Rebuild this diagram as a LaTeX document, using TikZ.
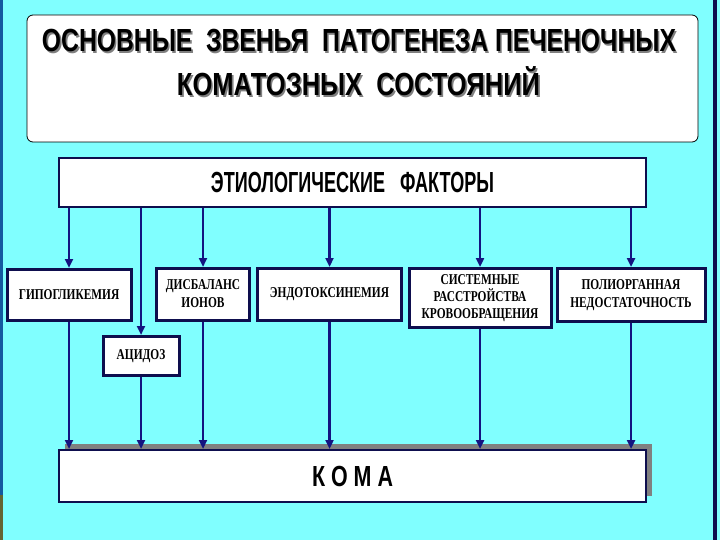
\documentclass[tikz,border=0pt]{standalone}
\usepackage{fontspec}
\setmainfont{Liberation Serif}
\newfontfamily\headfont{Liberation Sans}
\usepackage{graphicx}
\usepackage{tikz}
\usetikzlibrary{arrows.meta, shadows}
\definecolor{skycyan}{RGB}{128,255,255}
\definecolor{boxnavy}{RGB}{14,14,78}
\definecolor{arrownavy}{RGB}{20,20,128}
\definecolor{edgeblue}{RGB}{20,90,160}
\definecolor{edgeolive}{RGB}{100,100,50}
\newcommand{\capsfit}[3]{\resizebox{#1}{#2}{\vphantom{Н}\smash{#3}}}
\newcommand{\shadowed}[1]{\makebox[0pt][l]{\hspace*{1.6pt}\raisebox{-1.6pt}{\color{gray}#1}}#1}
\newcommand{\narrow}[1]{\scalebox{0.76}[1]{#1}}
\tikzstyle{headbox} = [rectangle, rounded corners=6pt, minimum width=671pt, minimum height=127pt, draw=black, line width=0.8pt, fill=white]
\tikzstyle{headline} = [anchor=base, inner sep=0pt, font=\headfont\bfseries]
\tikzstyle{causebox} = [rectangle, minimum width=587pt, minimum height=49pt, draw=boxnavy, line width=2.2pt, fill=white, font=\headfont\bfseries]
\tikzstyle{linkbox} = [rectangle, inner sep=0pt, draw=boxnavy, line width=3pt, fill=white, font=\fontsize{15}{18}\selectfont\bfseries]
\tikzstyle{comabox} = [rectangle, minimum width=587pt, minimum height=52pt, draw=boxnavy, line width=2pt, fill=white, font=\headfont\bfseries, drop shadow={fill=gray, opacity=1, shadow xshift=6pt, shadow yshift=6pt}]
\tikzstyle{arrow} = [line width=2.4pt, draw=arrownavy, -{Triangle[length=9pt, width=8pt]}]

\begin{document}
\begin{tikzpicture}[x=1pt, y=-1pt]
    \useasboundingbox (0,0) rectangle (720,540);
    \fill [skycyan] (0,0) rectangle (720,540);
    \fill [edgeblue] (0,0) rectangle (3,495);
    \fill [edgeolive] (0,495) rectangle (3,540);
    \fill [boxnavy] (713,0) rectangle (716.5,540);

    \node (head) [headbox] at (362.5,78.5) {};
    \node (headA) [headline] at (359,52) {\shadowed{\capsfit{634pt}{22pt}{ОСНОВНЫЕ\ \ ЗВЕНЬЯ\ \ ПАТОГЕНЕЗА ПЕЧЕНОЧНЫХ}}};
    \node (headB) [headline] at (358.5,96) {\shadowed{\capsfit{363pt}{22pt}{КОМАТОЗНЫХ\ \ СОСТОЯНИЙ}}};

    \node (causes) [causebox] at (352.5,182.5) {\capsfit{283pt}{20pt}{ЭТИОЛОГИЧЕСКИЕ\ \ \ ФАКТОРЫ}};

    \node (hypo) [linkbox, minimum width=124pt, minimum height=51pt] at (69,295) {\narrow{ГИПОГЛИКЕМИЯ}};
    \node (ions) [linkbox, minimum width=93pt, minimum height=52pt] at (203,294.5) {\narrow{\begin{tabular}{@{}c@{}}ДИСБАЛАНС\\ИОНОВ\end{tabular}}};
    \node (endo) [linkbox, minimum width=144pt, minimum height=52pt] at (329.5,294.5) {\narrow{ЭНДОТОКСИНЕМИЯ}};
    \node (circ) [linkbox, minimum width=142pt, minimum height=59pt, font=\fontsize{15}{16.5}\selectfont\bfseries] at (480,298) {\narrow{\begin{tabular}{@{}c@{}}СИСТЕМНЫЕ\\РАССТРОЙСТВА\\КРОВООБРАЩЕНИЯ\end{tabular}}};
    \node (organ) [linkbox, minimum width=148pt, minimum height=53pt] at (631,295) {\narrow{\begin{tabular}{@{}c@{}}ПОЛИОРГАННАЯ\\НЕДОСТАТОЧНОСТЬ\end{tabular}}};
    \node (acid) [linkbox, minimum width=76pt, minimum height=39pt] at (141,356) {\narrow{АЦИДОЗ}};

    \node (coma) [comabox] at (352.5,476) {\capsfit{81pt}{20pt}{К О М А}};

    \draw [arrow] (causes.south -| hypo.north) -- (hypo.north);
    \draw [arrow] (causes.south -| acid.north) -- (acid.north);
    \draw [arrow] (causes.south -| ions.north) -- (ions.north);
    \draw [arrow] (causes.south -| endo.north) -- (endo.north);
    \draw [arrow] (causes.south -| circ.north) -- (circ.north);
    \draw [arrow] (causes.south -| organ.north) -- (organ.north);

    \draw [arrow] (hypo.south) -- (hypo.south |- coma.north);
    \draw [arrow] (acid.south) -- (acid.south |- coma.north);
    \draw [arrow] (ions.south) -- (ions.south |- coma.north);
    \draw [arrow] (endo.south) -- (endo.south |- coma.north);
    \draw [arrow] (circ.south) -- (circ.south |- coma.north);
    \draw [arrow] (organ.south) -- (organ.south |- coma.north);
\end{tikzpicture}
\end{document}
